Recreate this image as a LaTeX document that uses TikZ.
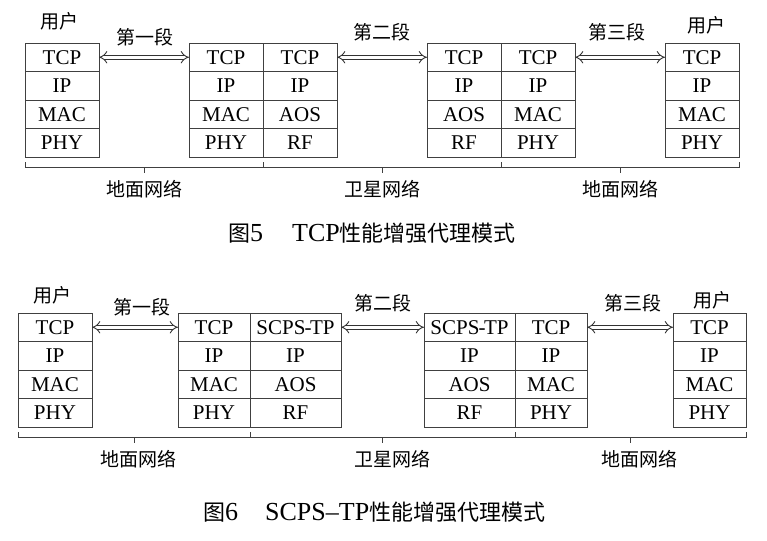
\documentclass[tikz,border=0pt]{standalone}
\usepackage{fontspec}
\setmainfont{Liberation Serif}
\newfontfamily\cjk{Noto Sans CJK SC}
\usetikzlibrary{arrows.meta,positioning,calc}
\tikzset{
  lyr/.style={draw=black!75, line width=0.9pt, rectangle, minimum height=28.5pt, minimum width=74pt, inner sep=0pt, outer sep=0pt, font=\fontsize{21}{21}\selectfont},
  wlyr/.style={lyr, minimum width=91pt},
  seg/.style={draw=black!80, double=white, double distance=3.4pt, line width=0.9pt, {Implies[scale=1.2]}-{Implies[scale=1.2]}},
  zh/.style={font=\cjk\fontsize{19}{19}\selectfont, inner sep=0pt},
  brc/.style={draw=black!75, line width=0.9pt},
  capt/.style={anchor=west, inner sep=0pt, font=\fontsize{26}{26}\selectfont},
}
\begin{document}
\begin{tikzpicture}[x=1pt, y=-1pt]
\useasboundingbox (0,0) rectangle (767,540);

% ---- Fig 5: TCP PEP ----
\node[lyr, anchor=north west] (a1) at (25,43) {TCP};
\node[lyr, below=0pt of a1] (a2) {IP};
\node[lyr, below=0pt of a2] (a3) {MAC};
\node[lyr, below=0pt of a3] (a4) {PHY};

\node[lyr, anchor=north west] (b1) at (189,43) {TCP};
\node[lyr, below=0pt of b1] (b2) {IP};
\node[lyr, below=0pt of b2] (b3) {MAC};
\node[lyr, below=0pt of b3] (b4) {PHY};
\node[lyr, right=0pt of b1] (c1) {TCP};
\node[lyr, below=0pt of c1] (c2) {IP};
\node[lyr, below=0pt of c2] (c3) {AOS};
\node[lyr, below=0pt of c3] (c4) {RF};

\node[lyr, anchor=north west] (d1) at (427,43) {TCP};
\node[lyr, below=0pt of d1] (d2) {IP};
\node[lyr, below=0pt of d2] (d3) {AOS};
\node[lyr, below=0pt of d3] (d4) {RF};
\node[lyr, right=0pt of d1] (e1) {TCP};
\node[lyr, below=0pt of e1] (e2) {IP};
\node[lyr, below=0pt of e2] (e3) {MAC};
\node[lyr, below=0pt of e3] (e4) {PHY};

\node[lyr, anchor=north west] (f1) at (665,43) {TCP};
\node[lyr, below=0pt of f1] (f2) {IP};
\node[lyr, below=0pt of f2] (f3) {MAC};
\node[lyr, below=0pt of f3] (f4) {PHY};

\node[zh] (usrA) at (59,21) {用户};
\node[zh] (usrF) at (706,25) {用户};
\node[zh] (segA) at (145,37) {第一段};
\node[zh] (segB) at (382,32) {第二段};
\node[zh] (segC) at (617,32) {第三段};

\draw[seg] (a1) -- (b1);
\draw[seg] (c1) -- (d1);
\draw[seg] (e1) -- (f1);

\draw[brc] ([yshift=-5pt]a4.south west) -- ++(0,-5pt) -- ([yshift=-10pt]c4.south west) -- ++(0,5pt);
\draw[brc] ($(a4.south west)!0.5!(c4.south west)+(0,-10pt)$) -- ++(0,-6pt) node[zh, below=7pt] (netA) {地面网络};
\draw[brc] ([yshift=-5pt]c4.south west) -- ++(0,-5pt) -- ([yshift=-10pt]e4.south west) -- ++(0,5pt);
\draw[brc] ($(c4.south west)!0.5!(e4.south west)+(0,-10pt)$) -- ++(0,-6pt) node[zh, below=7pt] (satA) {卫星网络};
\draw[brc] ([yshift=-5pt]e4.south west) -- ++(0,-5pt) -- ([yshift=-10pt]f4.south east) -- ++(0,5pt);
\draw[brc] ($(e4.south west)!0.5!(f4.south east)+(0,-10pt)$) -- ++(0,-6pt) node[zh, below=7pt] (netB) {地面网络};

\node[capt] (fig5) at (228,233) {{\cjk\fontsize{22}{22}\selectfont 图}5\hspace{29pt}TCP{\cjk\fontsize{22}{22}\selectfont 性能增强代理模式}};

% ---- Fig 6: SCPS-TP PEP ----
\node[lyr, anchor=north west] (g1) at (18,313) {TCP};
\node[lyr, below=0pt of g1] (g2) {IP};
\node[lyr, below=0pt of g2] (g3) {MAC};
\node[lyr, below=0pt of g3] (g4) {PHY};

\node[lyr, anchor=north west, minimum width=72pt] (h1) at (178,313) {TCP};
\node[lyr, below=0pt of h1, minimum width=72pt] (h2) {IP};
\node[lyr, below=0pt of h2, minimum width=72pt] (h3) {MAC};
\node[lyr, below=0pt of h3, minimum width=72pt] (h4) {PHY};
\node[wlyr, right=0pt of h1] (i1) {SCPS\kern-1pt-\kern-1.5pt TP};
\node[wlyr, below=0pt of i1] (i2) {IP};
\node[wlyr, below=0pt of i2] (i3) {AOS};
\node[wlyr, below=0pt of i3] (i4) {RF};

\node[wlyr, anchor=north west] (j1) at (424,313) {SCPS\kern-1pt-\kern-1.5pt TP};
\node[wlyr, below=0pt of j1] (j2) {IP};
\node[wlyr, below=0pt of j2] (j3) {AOS};
\node[wlyr, below=0pt of j3] (j4) {RF};
\node[lyr, right=0pt of j1, minimum width=72pt] (k1) {TCP};
\node[lyr, below=0pt of k1, minimum width=72pt] (k2) {IP};
\node[lyr, below=0pt of k2, minimum width=72pt] (k3) {MAC};
\node[lyr, below=0pt of k3, minimum width=72pt] (k4) {PHY};

\node[lyr, anchor=north west, minimum width=73pt] (l1) at (673,313) {TCP};
\node[lyr, below=0pt of l1, minimum width=73pt] (l2) {IP};
\node[lyr, below=0pt of l2, minimum width=73pt] (l3) {MAC};
\node[lyr, below=0pt of l3, minimum width=73pt] (l4) {PHY};

\node[zh] (usrG) at (52,295) {用户};
\node[zh] (usrL) at (712,300) {用户};
\node[zh] (segD) at (142,307) {第一段};
\node[zh] (segE) at (383,303) {第二段};
\node[zh] (segF) at (633,303) {第三段};

\draw[seg] (g1) -- (h1);
\draw[seg] (i1) -- (j1);
\draw[seg] (k1) -- (l1);

\draw[brc] ([yshift=-5pt]g4.south west) -- ++(0,-5pt) -- ([yshift=-10pt]i4.south west) -- ++(0,5pt);
\draw[brc] ($(g4.south west)!0.5!(i4.south west)+(0,-10pt)$) -- ++(0,-6pt) node[zh, below=7pt, xshift=4pt] (netC) {地面网络};
\draw[brc] ([yshift=-5pt]i4.south west) -- ++(0,-5pt) -- ([yshift=-10pt]k4.south west) -- ++(0,5pt);
\draw[brc] ($(i4.south west)!0.5!(k4.south west)+(0,-10pt)$) -- ++(0,-6pt) node[zh, below=7pt, xshift=10pt] (satB) {卫星网络};
\draw[brc] ([yshift=-5pt]k4.south west) -- ++(0,-5pt) -- ([yshift=-10pt]l4.south east) -- ++(0,5pt);
\draw[brc] ($(k4.south west)!0.5!(l4.south east)+(0,-10pt)$) -- ++(0,-6pt) node[zh, below=7pt, xshift=9pt] (netD) {地面网络};

\node[capt] (fig6) at (203,512) {{\cjk\fontsize{22}{22}\selectfont 图}6\hspace{27pt}SCPS--TP{\cjk\fontsize{22}{22}\selectfont 性能增强代理模式}};

\end{tikzpicture}
\end{document}
